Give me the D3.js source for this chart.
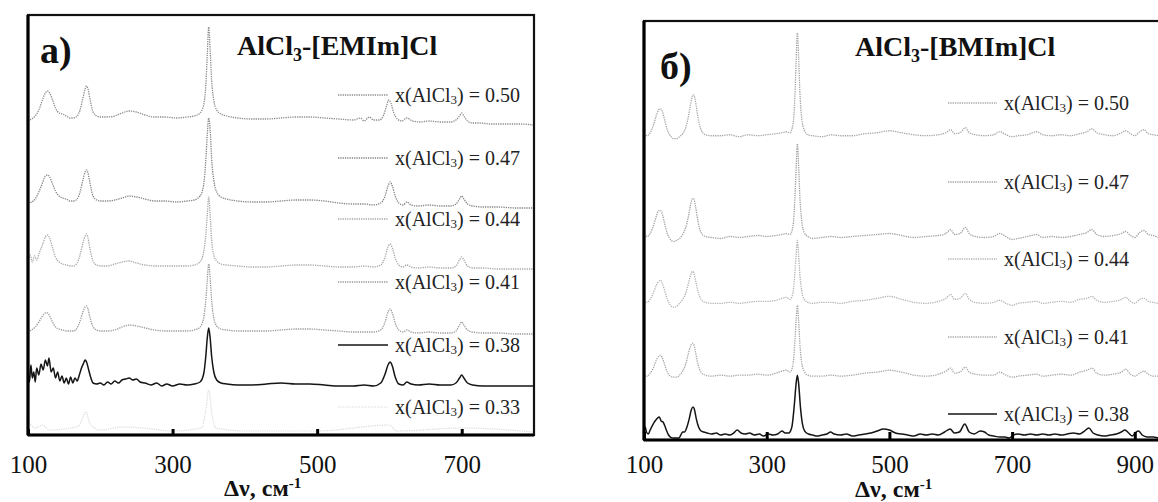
<!DOCTYPE html>
<html><head><meta charset="utf-8">
<script src="https://cdn.jsdelivr.net/npm/d3@7"></script>
<style>
html,body{margin:0;padding:0;background:#fff;}
svg{display:block;}
text{font-family:"Liberation Serif","Times New Roman",serif;}
</style></head>
<body>
<svg id="chart" width="1158" height="502"></svg>
<script>
// ---------- DATA ----------
// x ticks
const tickLabelsA = [100, 300, 500, 700];
const tickLabelsB = [100, 300, 500, 700, 900];
// legend labels (mole fraction of AlCl3)
const labelsA = ["0.50", "0.47", "0.44", "0.41", "0.38", "0.33"];
const labelsB = ["0.50", "0.47", "0.44", "0.41", "0.38"];
// vertical offsets of stacked spectra (intensity units)
const offsetsA = [317, 235, 170, 105, 51, 5];
const offsetsB = [305, 203, 138, 65, 5];

// Panel a : AlCl3-[EMIm]Cl  [wavenumber, relative intensity]
const specA050 = [[100,-3],[105,-1],[110,2],[115,8],[120,18],[124,25],[127,27],[130,25],[134,18],[138,10],[143,5],[148,4],[153,2],[158,0],[163,0],[168,2],[172,8],[176,20],[179,29],[181,32],[183,29],[186,18],[190,6],[195,2],[200,1],[210,1],[220,2],[230,5],[240,7],[250,6],[262,3],[275,1],[290,1],[305,0],[320,1],[330,2],[338,5],[343,13],[346,33],[348,63],[350,91],[352,68],[354,38],[357,18],[361,8],[367,4],[375,2],[390,0],[410,-1],[430,-1],[450,0],[470,1],[490,1],[510,0],[530,-1],[550,-2],[560,0],[565,-3],[572,1],[578,-2],[586,-2],[592,3],[596,12],[599,18],[602,15],[606,5],[611,-1],[617,-3],[624,0],[632,-3],[642,-4],[655,-3],[670,-4],[685,-4],[692,-2],[697,2],[700,5],[703,2],[708,-3],[715,-5],[725,-5],[740,-6],[760,-6],[780,-6],[800,-7]];
const specA047 = [[100,-3],[105,-2],[110,1],[115,8],[120,17],[124,24],[127,25],[130,23],[134,16],[138,9],[143,4],[148,2],[153,1],[158,-1],[163,-1],[168,1],[172,8],[176,20],[179,28],[181,30],[183,27],[186,16],[190,4],[195,0],[200,-1],[210,-1],[220,0],[230,2],[240,4],[250,3],[262,1],[275,-1],[290,-1],[305,-2],[320,-1],[330,0],[338,4],[343,15],[346,40],[348,65],[350,82],[352,70],[354,42],[357,20],[361,8],[367,3],[375,1],[390,-1],[410,-2],[430,-2],[450,-1],[470,0],[490,0],[510,-1],[530,-3],[550,-4],[565,-4],[578,-5],[588,-3],[594,4],[598,14],[601,18],[604,14],[608,4],[613,-3],[619,-5],[624,-2],[630,-5],[640,-6],[655,-5],[670,-6],[685,-6],[692,-4],[697,1],[700,4],[703,1],[708,-4],[715,-6],[730,-7],[750,-7],[775,-8],[800,-8]];
const specA044 = [[100,3],[103,10],[106,3],[109,9],[112,5],[116,13],[120,20],[124,28],[127,30],[130,27],[134,17],[138,8],[143,3],[148,1],[153,0],[158,-1],[163,-1],[168,2],[172,10],[176,22],[179,29],[181,31],[183,27],[186,15],[190,4],[195,0],[200,-1],[210,-1],[220,1],[230,3],[240,4],[250,2],[262,0],[275,-1],[290,-1],[305,-1],[320,-1],[330,0],[338,3],[343,13],[346,30],[348,50],[350,68],[352,50],[354,25],[357,10],[361,4],[367,1],[375,0],[390,-1],[410,-2],[430,-2],[450,-1],[470,0],[490,0],[510,-1],[530,-2],[550,-2],[565,-1],[578,-2],[588,0],[594,8],[598,18],[601,21],[604,17],[608,7],[613,0],[619,-2],[624,0],[630,-2],[640,-3],[655,-2],[670,-3],[685,-3],[692,-1],[697,5],[700,8],[703,5],[708,-1],[715,-3],[730,-3],[750,-4],[775,-4],[800,-4]];
const specA041 = [[100,-2],[105,0],[110,3],[115,8],[120,14],[124,17],[127,17],[130,14],[134,8],[138,3],[143,1],[148,0],[153,-1],[158,-1],[163,-1],[168,2],[172,9],[176,18],[179,23],[181,24],[183,21],[186,12],[190,3],[195,0],[200,-1],[210,-1],[220,0],[230,3],[240,5],[250,4],[262,2],[275,0],[290,-1],[305,-1],[320,-1],[330,0],[338,3],[343,12],[346,30],[348,50],[350,66],[352,52],[354,30],[357,12],[361,4],[367,1],[375,0],[390,-1],[410,-1],[430,-1],[450,0],[470,1],[490,1],[510,0],[530,-1],[550,-2],[565,-2],[578,-2],[588,0],[594,8],[598,18],[601,21],[604,17],[608,7],[613,0],[619,-2],[624,0],[630,-2],[640,-3],[655,-2],[670,-3],[685,-3],[692,-1],[697,5],[700,8],[703,5],[708,0],[715,-2],[730,-3],[750,-3],[775,-4],[800,-4]];
const specA038 = [[100,14],[102,2],[104,19],[106,6],[108,12],[110,2],[112,16],[115,9],[118,20],[121,14],[124,24],[127,18],[129,26],[132,12],[135,16],[138,6],[141,12],[144,3],[147,8],[150,1],[153,6],[156,0],[159,7],[162,1],[165,6],[168,3],[171,9],[174,16],[177,21],[179,24],[181,22],[184,14],[187,6],[190,1],[195,0],[200,1],[205,-1],[210,2],[215,0],[220,3],[225,1],[230,4],[235,5],[240,6],[245,4],[250,5],[255,2],[262,1],[270,-1],[278,1],[285,-2],[292,0],[300,-2],[310,0],[320,-1],[330,0],[338,2],[343,10],[346,28],[348,46],[350,56],[352,46],[354,28],[357,12],[361,4],[367,1],[375,0],[390,-1],[410,-1],[430,0],[450,1],[470,0],[490,0],[510,-1],[530,-2],[550,-2],[565,-1],[578,-2],[588,1],[594,10],[598,19],[601,22],[604,18],[608,7],[613,0],[619,-1],[624,2],[630,0],[640,-1],[655,0],[670,-1],[685,-1],[692,1],[697,6],[700,9],[703,6],[708,1],[715,-1],[730,-2],[750,-2],[775,-2],[800,-2]];
const specA033 = [[100,10],[110,2],[120,5],[130,0],[150,1],[170,4],[180,18],[186,6],[200,0],[230,3],[260,2],[300,-1],[340,2],[346,20],[350,40],[354,18],[360,2],[400,-1],[500,-1],[600,5],[610,-1],[700,2],[800,-2]];

// Panel б : AlCl3-[BMIm]Cl  [wavenumber, relative intensity]
const specB050 = [[100,2],[105,0],[110,3],[115,10],[120,20],[124,26],[127,27],[130,24],[134,15],[138,6],[143,0],[148,-3],[153,-3],[158,-1],[163,2],[168,8],[172,18],[176,32],[179,40],[181,41],[184,34],[188,18],[193,6],[200,1],[210,0],[225,0],[240,1],[255,-1],[270,1],[285,0],[300,1],[315,2],[325,3],[332,4],[338,3],[343,12],[346,40],[348,75],[350,103],[352,80],[354,45],[357,18],[361,6],[367,1],[375,0],[390,-1],[405,1],[420,0],[440,0],[460,2],[480,3],[500,5],[520,3],[540,1],[560,0],[580,1],[592,3],[600,6],[606,2],[615,3],[624,8],[630,3],[640,1],[655,0],[670,1],[680,4],[690,1],[700,-1],[710,0],[725,1],[740,4],[750,1],[765,0],[780,1],[795,0],[810,2],[822,4],[830,7],[838,3],[850,1],[865,0],[878,3],[885,5],[893,2],[900,0],[908,4],[915,6],[922,2],[930,1],[940,0],[950,1]];
const specB047 = [[100,3],[105,1],[110,4],[115,11],[120,21],[124,27],[127,27],[130,23],[134,13],[138,4],[143,-2],[148,-4],[153,-3],[158,-1],[163,3],[168,10],[172,20],[176,33],[179,39],[181,39],[184,31],[188,16],[193,5],[200,1],[210,0],[225,-1],[240,1],[255,0],[270,1],[285,2],[300,1],[315,2],[325,3],[332,4],[338,3],[343,12],[346,40],[348,70],[350,94],[352,72],[354,42],[357,17],[361,5],[367,1],[375,-1],[390,0],[405,1],[420,0],[440,1],[460,2],[480,3],[500,4],[520,2],[540,0],[560,1],[580,2],[592,4],[600,8],[606,3],[615,4],[624,10],[630,4],[640,1],[655,0],[670,1],[680,4],[690,1],[700,-2],[710,-1],[725,1],[740,3],[750,0],[765,1],[780,0],[795,1],[810,3],[822,5],[830,8],[838,3],[850,1],[865,2],[878,4],[885,6],[893,2],[900,0],[908,5],[915,7],[922,3],[930,2],[940,0],[950,1]];
const specB044 = [[100,1],[105,0],[110,3],[115,9],[120,17],[124,21],[127,22],[130,19],[134,11],[138,3],[143,-3],[148,-5],[153,-4],[158,-1],[163,3],[168,9],[172,18],[176,27],[179,31],[181,30],[184,22],[188,11],[193,3],[200,0],[210,-1],[225,-1],[240,0],[255,-1],[270,0],[285,1],[300,1],[315,2],[325,4],[332,5],[338,3],[343,10],[346,30],[348,48],[350,62],[352,48],[354,28],[357,12],[361,3],[367,0],[375,-1],[390,0],[405,0],[420,-1],[440,1],[460,2],[480,4],[500,6],[520,3],[540,0],[560,-1],[580,1],[592,4],[600,8],[606,3],[615,4],[624,9],[630,3],[640,0],[655,-1],[670,0],[680,2],[690,-1],[700,-3],[710,-1],[725,0],[740,1],[750,-1],[765,0],[780,1],[795,0],[810,3],[822,4],[830,6],[838,2],[850,0],[865,1],[878,3],[885,5],[893,1],[900,-1],[908,3],[915,4],[922,1],[930,0],[940,-1],[950,0]];
const specB041 = [[100,0],[105,-1],[110,2],[115,7],[120,15],[124,19],[127,20],[130,17],[134,10],[138,3],[143,-1],[148,-2],[153,-2],[158,0],[163,4],[168,11],[172,21],[176,29],[179,32],[181,31],[184,23],[188,11],[193,3],[200,0],[210,-1],[225,0],[240,-1],[255,0],[270,0],[285,1],[300,0],[315,2],[325,4],[332,5],[338,3],[343,11],[346,35],[348,55],[350,70],[352,55],[354,32],[357,13],[361,4],[367,0],[375,-1],[390,-1],[405,0],[420,-1],[440,0],[460,2],[480,3],[500,5],[520,3],[540,0],[560,-1],[580,1],[592,4],[600,7],[606,2],[615,3],[624,8],[630,3],[640,1],[655,0],[670,0],[680,3],[690,0],[700,-2],[710,-1],[725,0],[740,1],[750,-1],[765,0],[780,1],[795,0],[810,3],[822,5],[830,7],[838,2],[850,0],[865,1],[878,3],[885,6],[893,1],[900,-1],[908,2],[915,4],[922,1],[930,-1],[940,-1],[950,0]];
const specB038 = [[100,5],[102,8],[104,3],[107,1],[110,5],[114,10],[118,14],[122,17],[125,18],[128,14],[131,13],[134,9],[137,4],[140,0],[143,-2],[148,-3],[153,-3],[157,-3],[160,0],[163,3],[166,3],[170,8],[174,17],[177,25],[180,28],[182,26],[185,17],[189,8],[193,4],[197,3],[203,2],[210,1],[218,2],[225,0],[232,1],[240,0],[246,2],[252,5],[258,2],[265,1],[272,2],[280,0],[288,1],[295,-1],[303,1],[310,0],[318,1],[325,4],[330,2],[336,2],[341,8],[345,30],[348,52],[350,60],[352,52],[355,28],[358,12],[362,4],[368,1],[375,0],[382,-1],[390,0],[398,1],[404,3],[410,1],[420,0],[430,1],[440,-1],[450,0],[460,1],[470,2],[480,4],[490,6],[500,5],[510,2],[520,1],[530,0],[540,-1],[550,1],[560,0],[570,1],[580,0],[590,3],[599,6],[606,2],[614,3],[623,11],[630,3],[638,1],[648,4],[655,3],[662,0],[670,-1],[680,-2],[688,-2],[695,-3],[702,0],[710,1],[720,0],[730,1],[740,0],[750,1],[760,0],[770,1],[780,0],[790,1],[800,2],[810,1],[818,4],[825,7],[832,2],[840,0],[850,-1],[860,0],[870,1],[878,3],[884,5],[890,2],[896,-1],[902,3],[906,4],[912,0],[920,-2],[930,-2],[940,-3],[950,-3]];

const seriesA = [specA050, specA047, specA044, specA041, specA038, specA033];
const seriesB = [specB050, specB047, specB044, specB041, specB038];

// ---------- STYLES ----------
const stylesA = [
  {stroke:"#8c8c8c", dash:"1.3,1", w:1.3},
  {stroke:"#858585", dash:"1.3,1", w:1.3},
  {stroke:"#a8a8a8", dash:"1.3,1", w:1.3},
  {stroke:"#999999", dash:"1.3,1", w:1.3},
  {stroke:"#151515", dash:null, w:1.5},
  {stroke:"#dcdcdc", dash:"1.3,1", w:1.2}
];
const stylesB = [
  {stroke:"#a6a6a6", dash:"1.3,1", w:1.3},
  {stroke:"#a0a0a0", dash:"1.3,1", w:1.3},
  {stroke:"#b4b4b4", dash:"1.3,1", w:1.3},
  {stroke:"#a6a6a6", dash:"1.3,1", w:1.3},
  {stroke:"#151515", dash:null, w:1.5}
];

const svg = d3.select("#chart");

function drawPanel(cfg) {
  const g = svg.append("g");
  const x = d3.scaleLinear().domain(cfg.xDomain).range([cfg.left, cfg.right]);
  const y = d3.scaleLinear().domain([0, 420]).range([cfg.bottom, cfg.top]);

  // spectra
  const line = d3.line().curve(d3.curveMonotoneX);
  cfg.series.forEach((s, i) => {
    const st = cfg.styles[i];
    g.append("path")
      .attr("d", line.x(d => x(d[0])).y(d => y(cfg.offsets[i] + d[1]))(s))
      .attr("fill", "none")
      .attr("stroke", st.stroke)
      .attr("stroke-width", st.w)
      .attr("stroke-dasharray", st.dash)
      .attr("stroke-linejoin", "round");
  });

  // frame
  g.append("rect")
    .attr("x", cfg.left).attr("y", cfg.top)
    .attr("width", cfg.frameRight - cfg.left).attr("height", cfg.bottom - cfg.top)
    .attr("fill", "none").attr("stroke", "#111").attr("stroke-width", 2.2);
  g.append("line").attr("x1", cfg.left).attr("x2", cfg.left)
    .attr("y1", cfg.top).attr("y2", cfg.bottom)
    .attr("stroke", "#000").attr("stroke-width", 3.2);
  g.append("line").attr("x1", cfg.left).attr("x2", cfg.frameRight)
    .attr("y1", cfg.bottom).attr("y2", cfg.bottom)
    .attr("stroke", "#000").attr("stroke-width", 3.2);

  // axis
  const ax = d3.axisBottom(x).tickValues(cfg.ticks).tickFormat(d3.format("d"))
    .tickSizeInner(-cfg.tickLen).tickSizeOuter(0).tickPadding(cfg.tickPad);
  const axG = g.append("g").attr("transform", `translate(0,${cfg.bottom})`).call(ax);
  axG.select(".domain").remove();
  axG.selectAll(".tick line").attr("stroke", "#000").attr("stroke-width", 3);
  axG.selectAll(".tick text").attr("font-size", 25).attr("fill", "#111")
    .style("font-family", '"Liberation Serif", serif');

  // axis title
  const t = g.append("text").attr("x", cfg.axTitleX).attr("y", cfg.axTitleY)
    .attr("font-size", 24).attr("font-weight", "bold").attr("fill", "#111");
  t.append("tspan").text("Δν, см");
  t.append("tspan").text("-1").attr("font-size", 15).attr("dy", -8);

  // panel letter
  g.append("text").attr("x", cfg.letterX).attr("y", cfg.letterY)
    .attr("font-size", 38).attr("font-weight", "bold").attr("fill", "#111").text(cfg.letter);

  // title
  const tt = g.append("text").attr("x", cfg.titleX).attr("y", cfg.titleY)
    .attr("font-size", 28).attr("font-weight", "bold").attr("fill", "#111");
  tt.append("tspan").text("AlCl");
  tt.append("tspan").text("3").attr("font-size", 18).attr("dy", 6);
  tt.append("tspan").text(cfg.titleRest).attr("dy", -6);

  // legend
  cfg.labels.forEach((lab, i) => {
    const st = cfg.styles[i];
    const ly = cfg.legY[i];
    g.append("line").attr("x1", cfg.legX1).attr("x2", cfg.legX2)
      .attr("y1", ly).attr("y2", ly)
      .attr("stroke", st.stroke).attr("stroke-width", st.w)
      .attr("stroke-dasharray", st.dash);
    const lt = g.append("text").attr("x", cfg.legX2 + 7).attr("y", ly + 7)
      .attr("font-size", 20).attr("fill", "#222");
    lt.append("tspan").text("x(AlCl");
    lt.append("tspan").text("3").attr("font-size", 13).attr("dy", 2);
    lt.append("tspan").text(") = " + lab).attr("dy", -2);
  });
}

drawPanel({
  series: seriesA, offsets: offsetsA, styles: stylesA, labels: labelsA,
  xDomain: [100, 800], left: 28, right: 534, frameRight: 534, top: 15, bottom: 435,
  ticks: tickLabelsA, tickLen: 6, tickPad: 20,
  axTitleX: 224, axTitleY: 496,
  letter: "a)", letterX: 40, letterY: 63,
  titleX: 237, titleY: 55, titleRest: "-[EMIm]Cl",
  legX1: 338, legX2: 388, legY: [95, 158, 219, 282, 345, 407]
});

drawPanel({
  series: seriesB, offsets: offsetsB, styles: stylesB, labels: labelsB,
  xDomain: [100, 950], left: 644, right: 644 + 850 * 0.6135, frameRight: 1175, top: 21, bottom: 440,
  ticks: tickLabelsB, tickLen: 8, tickPad: 15,
  axTitleX: 855, axTitleY: 497,
  letter: "б)", letterX: 660, letterY: 79,
  titleX: 855, titleY: 56, titleRest: "-[BMIm]Cl",
  legX1: 948, legX2: 997, legY: [103, 182, 259, 337, 414]
});
</script>
</body></html>
